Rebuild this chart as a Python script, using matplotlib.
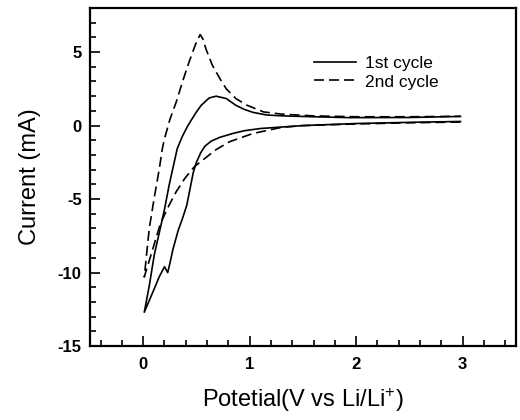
import matplotlib
matplotlib.use("Agg")
import matplotlib.pyplot as plt
from matplotlib.ticker import MultipleLocator

plt.rcParams['font.family'] = ['Liberation Sans', 'DejaVu Sans']
plt.rcParams['mathtext.default'] = 'regular'
plt.rcParams['axes.unicode_minus'] = False

# 1st cycle: cathodic scan 3 V -> 0 V, then anodic scan back to 3 V
cyc1_v = [2.98, 2.5, 2.0, 1.5, 1.3, 1.1, 0.95, 0.84, 0.72, 0.64, 0.58, 0.54, 0.5, 0.47,
          0.44, 0.41, 0.37, 0.33, 0.28, 0.25, 0.23, 0.2, 0.15, 0.104, 0.01,
          0.057, 0.104, 0.16, 0.2, 0.245, 0.285, 0.32, 0.37, 0.42, 0.5, 0.545, 0.62, 0.685,
          0.78, 0.87, 0.95, 1.03, 1.16, 1.31, 1.6, 1.94, 2.5, 2.89, 2.98]
cyc1_i = [0.28, 0.22, 0.14, 0.0, -0.1, -0.2, -0.35, -0.54, -0.8, -1.05, -1.4, -1.85, -2.5, -3.2,
          -4.3, -5.4, -6.3, -7.1, -8.4, -9.4, -10.0, -9.6, -10.3, -11.1, -12.7,
          -10.9, -8.8, -7.0, -5.7, -4.0, -2.7, -1.56, -0.7, 0.0, 0.93, 1.38, 1.88, 2.0,
          1.84, 1.38, 1.1, 0.9, 0.72, 0.66, 0.6, 0.54, 0.55, 0.61, 0.62]

# 2nd cycle
cyc2_v = [2.98, 2.5, 2.0, 1.5, 1.3, 1.03, 0.81, 0.67, 0.62, 0.48, 0.39, 0.31, 0.23, 0.16, 0.09,
          0.01,
          0.057, 0.104, 0.15, 0.18, 0.2, 0.25, 0.31, 0.37, 0.43, 0.49, 0.535,
          0.56, 0.59, 0.65, 0.72, 0.78, 0.87, 0.97, 1.13, 1.3, 1.6, 2.0, 2.5, 2.95, 2.98]
cyc2_i = [0.24, 0.19, 0.11, 0.0, -0.12, -0.54, -1.1, -1.7, -2.0, -2.8, -3.6, -4.5, -5.6, -6.7, -8.4,
          -10.3,
          -7.0, -4.9, -3.0, -1.56, -0.9, 0.4, 1.6, 3.0, 4.3, 5.5, 6.19,
          5.9, 5.2, 4.1, 3.2, 2.5, 1.84, 1.4, 0.93, 0.78, 0.66, 0.6, 0.6, 0.63, 0.64]

fig = plt.figure(figsize=(5.2, 4.2), dpi=100)
ax = fig.add_axes([0.173, 0.176, 0.819, 0.805])

ax.plot(cyc1_v, cyc1_i, color='black', lw=1.2, label='1st cycle')
ax.plot(cyc2_v, cyc2_i, color='black', lw=1.2, ls=(0, (6, 3)), label='2nd cycle')

ax.set_xlim(-0.5, 3.5)
ax.set_ylim(-15, 8)
ax.xaxis.set_major_locator(MultipleLocator(1))
ax.xaxis.set_minor_locator(MultipleLocator(0.2))
ax.yaxis.set_major_locator(MultipleLocator(5))
ax.yaxis.set_minor_locator(MultipleLocator(1))
ax.tick_params(which='both', direction='in', top=False, right=False, width=1.2)
ax.tick_params(which='major', length=7, labelsize=12)
ax.tick_params(axis='x', which='major', pad=8)
ax.tick_params(axis='y', which='major', pad=6)
ax.tick_params(which='minor', length=4)
for lab in ax.get_xticklabels() + ax.get_yticklabels():
    lab.set_fontweight('bold')
for s in ax.spines.values():
    s.set_linewidth(1.6)

ax.set_xlabel('Potetial(V vs Li/Li$^{+}$)', fontsize=17, labelpad=10)
ax.set_ylabel('Current (mA)', fontsize=17, labelpad=12)

ax.legend(loc='upper left', bbox_to_anchor=(0.49, 0.905), frameon=False,
          fontsize=12.5, handlelength=2.4, handletextpad=0.5, labelspacing=0.2)

fig.savefig('out.png', dpi=100)
